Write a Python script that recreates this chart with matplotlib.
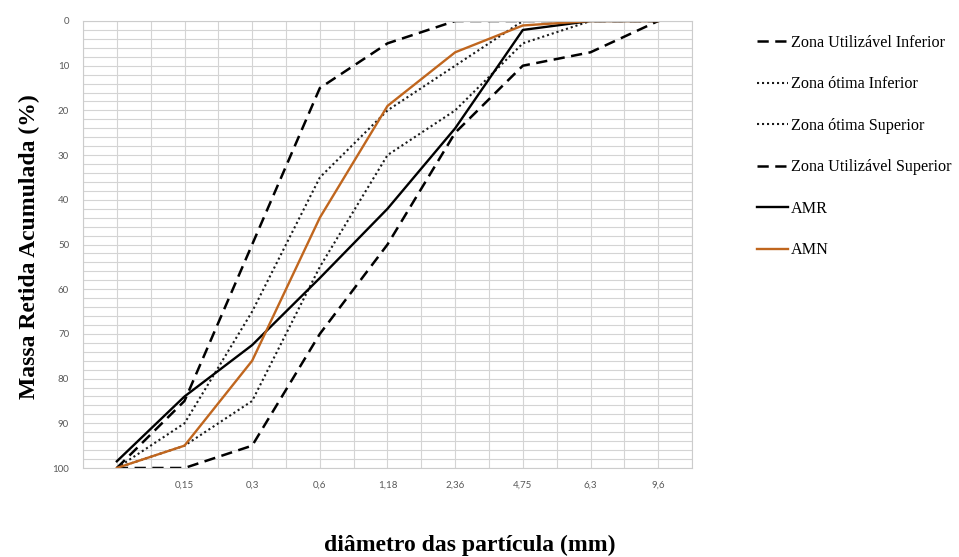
import numpy as np
import matplotlib
matplotlib.use('Agg')
import matplotlib.pyplot as plt

# categorias do eixo x (primeiro ponto = fundo, sem rotulo)
peneiras = ['', '0,15', '0,3', '0,6', '1,18', '2,36', '4,75', '6,3', '9,6']

util_inf = [100, 85, 50, 15, 5, 0, 0, 0, 0]
otima_inf = [100, 90, 65, 35, 20, 10, 0, 0, 0]
otima_sup = [100, 95, 85, 55, 30, 20, 5, 0, 0]
util_sup = [100, 100, 95, 70, 50, 25, 10, 7, 0]
amr = [98.5, 84, 72.5, 57.5, 42, 24, 2, 0, 0]
amn = [100, 95, 76, 44, 19, 7, 1, 0, 0]

fig = plt.figure(figsize=(9.59, 5.57), dpi=100)
ax = fig.add_axes([83/959, 1-468/557, 609/959, 447/557])

x = np.arange(len(peneiras))
ax.plot(x, util_inf, color='black', lw=1.8, dashes=(4.5, 2.6), label='Zona Utilizável Inferior')
ax.plot(x, otima_inf, color='#1a1a1a', lw=1.5, dashes=(1, 1.4), label='Zona ótima Inferior')
ax.plot(x, otima_sup, color='#1a1a1a', lw=1.5, dashes=(1, 1.4), label='Zona ótima Superior')
ax.plot(x, util_sup, color='black', lw=1.8, dashes=(4.5, 2.6), label='Zona Utilizável Superior')
ax.plot(x, amr, color='black', lw=1.7, label='AMR')
ax.plot(x, amn, color='#C0661E', lw=1.7, label='AMN')

ax.set_xlim(-0.5, len(peneiras) - 0.5)
ax.set_ylim(100, 0)
ax.set_xticks(x)
ax.set_xticklabels(peneiras)
ax.set_xticks(np.arange(-0.5, len(peneiras), 0.5), minor=True)
ax.set_yticks(np.arange(0, 101, 10))
ax.set_yticks(np.arange(0, 101, 2), minor=True)
ax.grid(which='both', color='#D4D4D4', lw=0.8)
ax.set_axisbelow(True)
ax.tick_params(which='both', length=0)
ax.tick_params(axis='x', pad=9, labelsize=7, labelcolor='#595959')
ax.tick_params(axis='y', pad=10, labelsize=7, labelcolor='#595959')
for lab in ax.get_xticklabels() + ax.get_yticklabels():
    lab.set_family('Lato')
for s in ax.spines.values():
    s.set_color('#CCCCCC')
    s.set_linewidth(0.8)

fig.text(29/959, 1-247/557, 'Massa Retida Acumulada (%)', rotation=90, ha='center', va='center',
         family='Liberation Serif', weight='bold', fontsize=17)
fig.text(470/959, 1-545/557, 'diâmetro das partícula (mm)', ha='center', va='center',
         family='Liberation Serif', weight='bold', fontsize=17)

leg = ax.legend(loc='upper left', bbox_to_anchor=(757/959, 1-35/557), bbox_transform=fig.transFigure,
                frameon=False, borderpad=0, borderaxespad=0, handlelength=1.95, handletextpad=0.15,
                labelspacing=1.58, prop={'family': 'Liberation Serif', 'size': 11.6})

fig.savefig('out.png', dpi=100)
